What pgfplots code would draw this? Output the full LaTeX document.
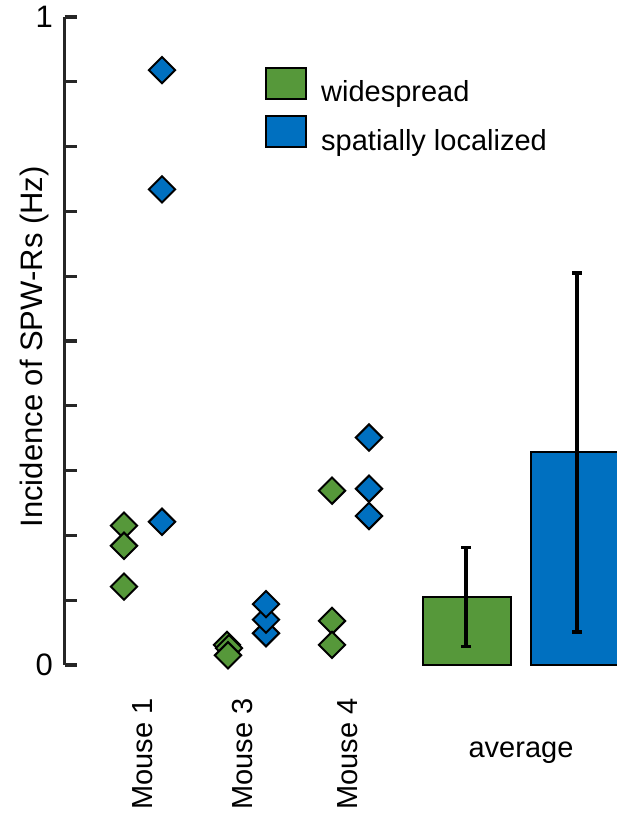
\documentclass[border=0pt]{standalone}
\usepackage{pgfplots}
\pgfplotsset{compat=1.18}
\usepackage{fontspec}
\setmainfont{Liberation Sans}
\definecolor{wgreen}{RGB}{86,152,58}
\definecolor{sblue}{RGB}{0,112,192}
\newcommand\lf{\fontsize{29pt}{34pt}\selectfont}
\newcommand\yf{\fontsize{31pt}{36pt}\selectfont}
\begin{document}
\begin{tikzpicture}
\path[use as bounding box] (0,0) rectangle (616pt,816pt);
\begin{axis}[
  at={(64.5pt,151pt)}, anchor=south west,
  scale only axis, width=551.5pt, height=648pt,
  xmin=64.5, xmax=616, ymin=0, ymax=1,
  clip=false,
  axis x line=none, axis y line*=left,
  axis line style={line width=3.2pt, black!85},
  ytick={0,0.1,0.2,0.3,0.4,0.5,0.6,0.7,0.8,0.9,1},
  yticklabels={0,,,,,,,,,,1},
  /pgf/number format/assume math mode=true,
  tick align=inside, major tick length=12pt,
  every tick/.style={black!85, line width=3.2pt},
  yticklabel style={font=\yf, xshift=-8pt},
  ylabel={Incidence of SPW-Rs (Hz)},
  ylabel style={font=\yf, at={(axis cs:43,0.491)}, anchor=base},
  legend style={draw=none, fill=none, font=\lf, at={(axis cs:262,0.926)}, anchor=north west,
    cells={anchor=west}, row sep=10pt, column sep=12pt},
  legend image code/.code={\draw[#1, draw=black, line width=2pt] (0pt,-7pt) rectangle (40pt,24pt);},
]
\addplot[ybar, bar width=88, bar shift=0pt, fill=wgreen, draw=black, line width=2pt]
  coordinates {(467,0.105)};
\addlegendentry{widespread}
\addplot[ybar, bar width=88, bar shift=0pt, fill=sblue, draw=black, line width=2pt]
  coordinates {(575,0.328)};
\addlegendentry{spatially localized}
% error bars
\addplot[forget plot, black, only marks, mark=none,
  error bars/.cd, y dir=both, y explicit, error mark=|,
  error bar style={line width=3.2pt, draw=black, solid},
  error mark options={line width=3.2pt, mark size=5pt, draw=black, solid}]
  coordinates {(466,0.105) +- (0,0.076) (577,0.328) +- (0,0.277)};
% widespread diamonds
\addplot[only marks, mark=square*, mark size=9.3pt,
  mark options={rotate=45, fill=wgreen, draw=black, line width=2pt}, forget plot]
  coordinates {(124,0.215) (124,0.184) (124,0.121)
               (227,0.031) (229,0.026) (228,0.015)
               (332,0.269) (332,0.068) (332,0.031)};
% spatially localized diamonds
\addplot[only marks, mark=square*, mark size=9.3pt,
  mark options={rotate=45, fill=sblue, draw=black, line width=2pt}, forget plot]
  coordinates {(162,0.918) (162,0.734) (162,0.221)
               (266,0.049) (266,0.070) (266,0.094)
               (369,0.230) (369,0.272) (369,0.351)};
\node[rotate=90, anchor=base east, inner sep=0pt, font=\lf] at (axis cs:152,-0.051) {Mouse 1};
\node[rotate=90, anchor=base east, inner sep=0pt, font=\lf] at (axis cs:252,-0.051) {Mouse 3};
\node[rotate=90, anchor=base east, inner sep=0pt, font=\lf] at (axis cs:357,-0.051) {Mouse 4};
\node[anchor=base, inner sep=0pt, font=\lf] at (axis cs:521,-0.142) {average};
\end{axis}
\end{tikzpicture}
\end{document}
